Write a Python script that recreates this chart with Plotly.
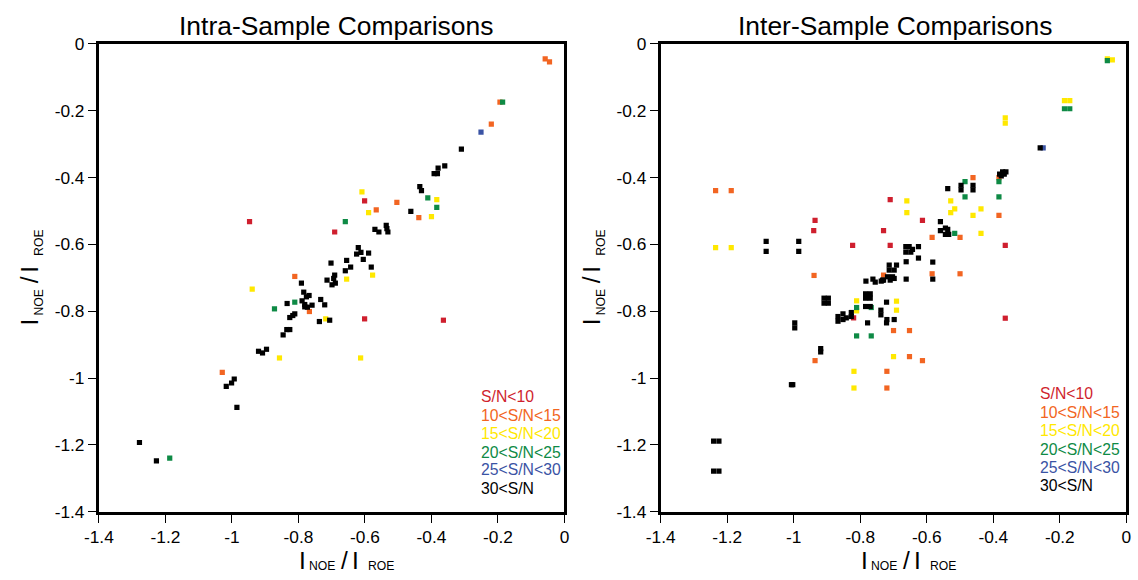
import plotly.graph_objects as go

# ---------------- data ----------------
classes = ["S/N<10", "10<S/N<15", "15<S/N<20", "20<S/N<25", "25<S/N<30", "30<S/N"]
colors = ["#cf1f2e", "#f26522", "#ffe800", "#0e8a45", "#3a53a4", "#000000"]

# Intra-sample panel
intra_sn10_x = [-0.947, -0.601, -0.691, -0.601, -0.364]
intra_sn10_y = [-0.532, -0.470, -0.563, -0.823, -0.827]
intra_sn15_x = [-0.058, -0.045, -0.194, -0.220, -0.566, -0.504, -0.438, -0.811, -0.767, -1.029]
intra_sn15_y = [-0.045, -0.054, -0.174, -0.240, -0.497, -0.474, -0.520, -0.696, -0.801, -0.983]
intra_sn20_x = [-0.609, -0.589, -0.384, -0.400, -0.577, -0.655, -0.939, -0.718, -0.857, -0.613]
intra_sn20_y = [-0.443, -0.505, -0.466, -0.517, -0.692, -0.704, -0.734, -0.823, -0.940, -0.940]
intra_sn25_x = [-0.186, -0.411, -0.384, -0.659, -0.811, -0.872, -1.187]
intra_sn25_y = [-0.174, -0.461, -0.489, -0.532, -0.773, -0.793, -1.240]
intra_sn30_x = [-0.251]
intra_sn30_y = [-0.264]
intra_sn30p_x = [-0.310, -0.360, -0.380, -0.392, -0.382, -0.435, -0.430, -0.462, -0.570, -0.558,
                 -0.536, -0.534, -0.531, -0.620, -0.625, -0.612, -0.589, -0.605, -0.702, -0.655,
                 -0.643, -0.659, -0.581, -0.691, -0.694, -0.714, -0.699, -0.689, -0.791, -0.784,
                 -0.768, -0.776, -0.789, -0.781, -0.773, -0.759, -0.781, -0.733, -0.721, -0.737,
                 -0.706, -0.834, -0.811, -0.817, -0.826, -0.835, -0.826, -0.846, -0.920, -0.908,
                 -0.896, -0.993, -1.001, -1.017, -0.985, -1.278, -1.227]
intra_sn30p_y = [-0.315, -0.365, -0.372, -0.388, -0.388, -0.427, -0.439, -0.501, -0.555, -0.563,
                 -0.543, -0.553, -0.563, -0.610, -0.629, -0.624, -0.626, -0.645, -0.656, -0.648,
                 -0.668, -0.679, -0.668, -0.692, -0.702, -0.707, -0.721, -0.716, -0.716, -0.743,
                 -0.753, -0.757, -0.769, -0.780, -0.788, -0.782, -0.787, -0.765, -0.781, -0.831,
                 -0.827, -0.777, -0.808, -0.813, -0.819, -0.855, -0.855, -0.871, -0.920, -0.925,
                 -0.914, -1.003, -1.015, -1.025, -1.088, -1.193, -1.248]

# Inter-sample panel
inter_sn10_x = [-0.936, -0.940, -0.823, -0.730, -0.710, -0.613, -0.710, -0.364, -0.820, -0.364]
inter_sn10_y = [-0.528, -0.559, -0.603, -0.559, -0.466, -0.528, -0.603, -0.603, -0.820, -0.821]
inter_sn15_x = [-1.235, -1.188, -0.939, -0.730, -0.936, -0.720, -0.720, -0.461, -0.383, -0.383,
                -0.584, -0.500, -0.584, -0.500, -0.700, -0.652, -0.652, -0.613]
inter_sn15_y = [-0.439, -0.439, -0.693, -0.692, -0.948, -0.980, -1.030, -0.400, -0.400, -0.513,
                -0.579, -0.579, -0.688, -0.688, -0.858, -0.858, -0.936, -0.948]
inter_sn20_x = [-1.235, -1.188, -0.811, -0.811, -0.819, -0.819, -0.042, -0.057, -0.186, -0.170,
                -0.364, -0.364, -0.660, -0.660, -0.528, -0.516, -0.528, -0.461, -0.437, -0.437,
                -0.691, -0.691, -0.700]
inter_sn20_y = [-0.610, -0.610, -0.769, -0.799, -0.980, -1.030, -0.048, -0.045, -0.170, -0.170,
                -0.221, -0.237, -0.470, -0.505, -0.470, -0.494, -0.505, -0.513, -0.494, -0.567,
                -0.770, -0.797, -0.936]
inter_sn25_x = [-0.057, -0.186, -0.170, -0.383, -0.485, -0.485, -0.383, -0.516, -0.811, -0.767,
                -0.811, -0.767]
inter_sn25_y = [-0.050, -0.194, -0.194, -0.412, -0.412, -0.458, -0.458, -0.567, -0.789, -0.789,
                -0.874, -0.874]
inter_sn30_x = [-0.250]
inter_sn30_y = [-0.311]
inter_sn30p_x = [-1.083, -1.083, -0.985, -0.985, -0.909, -0.896, -0.909, -0.896, -0.997, -0.997,
                 -0.919, -0.919, -1.007, -1.003, -1.241, -1.225, -1.241, -1.225, -0.852, -0.852,
                 -0.867, -0.867, -0.842, -0.827, -0.827, -0.784, -0.770, -0.784, -0.770, -0.784,
                 -0.770, -0.778, -0.783, -0.762, -0.755, -0.737, -0.730, -0.738, -0.738, -0.721,
                 -0.721, -0.720, -0.698, -0.713, -0.691, -0.713, -0.698, -0.718, -0.703, -0.698,
                 -0.733, -0.710, -0.663, -0.653, -0.663, -0.648, -0.643, -0.625, -0.625, -0.662,
                 -0.582, -0.662, -0.582, -0.559, -0.559, -0.544, -0.537, -0.544, -0.534, -0.537,
                 -0.497, -0.497, -0.461, -0.461, -0.381, -0.372, -0.362, -0.376, -0.367, -0.259]
inter_sn30p_y = [-0.591, -0.621, -0.591, -0.621, -0.761, -0.761, -0.776, -0.776, -0.835, -0.850,
                 -0.912, -0.922, -1.020, -1.020, -1.189, -1.189, -1.279, -1.279, -0.808, -0.825,
                 -0.816, -0.830, -0.820, -0.804, -0.816, -0.748, -0.748, -0.761, -0.761, -0.786,
                 -0.786, -0.835, -0.710, -0.704, -0.713, -0.710, -0.707, -0.797, -0.811, -0.773,
                 -0.835, -0.825, -0.825, -0.662, -0.662, -0.677, -0.677, -0.697, -0.697, -0.702,
                 -0.707, -0.707, -0.607, -0.607, -0.623, -0.623, -0.615, -0.607, -0.641, -0.652,
                 -0.653, -0.704, -0.704, -0.532, -0.559, -0.551, -0.555, -0.570, -0.570, -0.433,
                 -0.423, -0.437, -0.423, -0.437, -0.390, -0.383, -0.383, -0.395, -0.390, -0.311]

tick_vals = [-1.4, -1.2, -1.0, -0.8, -0.6, -0.4, -0.2, 0.0]
tick_text = ["-1.4", "-1.2", "-1", "-0.8", "-0.6", "-0.4", "-0.2", "0"]
titles = ["Intra-Sample Comparisons", "Inter-Sample Comparisons"]
# axis title "I_NOE / I_ROE": pieces (text, is_subscript)
axis_title_parts = [("I", False), ("NOE", True), ("/", False), ("I", False), ("ROE", True)]

intra = [(intra_sn10_x, intra_sn10_y), (intra_sn15_x, intra_sn15_y), (intra_sn20_x, intra_sn20_y),
         (intra_sn25_x, intra_sn25_y), (intra_sn30_x, intra_sn30_y), (intra_sn30p_x, intra_sn30p_y)]
inter = [(inter_sn10_x, inter_sn10_y), (inter_sn15_x, inter_sn15_y), (inter_sn20_x, inter_sn20_y),
         (inter_sn25_x, inter_sn25_y), (inter_sn30_x, inter_sn30_y), (inter_sn30p_x, inter_sn30p_y)]

# ---------------- figure ----------------
W, H = 1138, 580
# The page is shown with the browser's 8px body margin and is fitted into the window,
# so positions below are given in window pixels and mapped back to figure paper coords.
OFF = 8.0
SX = W / (W + OFF)          # horizontal fit factor
SY = H / (H + 2 * OFF)      # vertical fit factor
FONT = "Liberation Sans, Arial, Helvetica, sans-serif"
FS = 1.0 / ((SX + SY) / 2)  # font compensation


def px_x(p):
    """window pixel -> paper x"""
    return ((p - OFF) / SX) / W


def px_y(p):
    """window pixel -> paper y"""
    return 1 - ((p - OFF) / SY) / H


fig = go.Figure()
for (data, xa, ya) in [(intra, "x", "y"), (inter, "x2", "y2")]:
    for (xs, ys), name, col in zip(data, classes, colors):
        fig.add_trace(go.Scatter(
            x=xs, y=ys, mode="markers", name=name, xaxis=xa, yaxis=ya,
            marker=dict(symbol="square", size=5.2, color=col, line=dict(width=0)),
            showlegend=False, hoverinfo="x+y+name"))

left_dom = [px_x(92.8), px_x(563.4)]
right_dom = [px_x(660.7), px_x(1131.3)]
y_dom = [px_y(513.6), px_y(42.2)]

axis_common = dict(
    range=[-1.4, 0], tickmode="array", tickvals=tick_vals, ticktext=tick_text,
    showline=True, linewidth=3, linecolor="black", mirror=True,
    ticks="outside", ticklen=8, tickwidth=1, tickcolor="black",
    showgrid=False, zeroline=False,
    tickfont=dict(family=FONT, size=17 * FS, color="black"),
)

fig.update_layout(
    width=W, height=H,
    margin=dict(l=0, r=0, t=0, b=0),
    paper_bgcolor="white", plot_bgcolor="white",
    showlegend=False,
    font=dict(family=FONT, color="black"),
    xaxis=dict(domain=left_dom, anchor="y", **axis_common),
    yaxis=dict(domain=y_dom, anchor="x", **axis_common),
    xaxis2=dict(domain=right_dom, anchor="y2", **axis_common),
    yaxis2=dict(domain=y_dom, anchor="x2", **axis_common),
)

annotations = []
# panel titles
for cx, t in zip([332, 897], titles):
    annotations.append(dict(x=px_x(cx), y=px_y(24), xref="paper", yref="paper",
                            text=t, showarrow=False, xanchor="center", yanchor="middle",
                            font=dict(family=FONT, size=26 * FS, color="black")))

# axis titles built from pieces (big letters + small subscripts)
part_offsets = [4.0, 23.0, 46.5, 57.0, 83.0]   # position along the text line, px
BIG, SMALL = 24 * FS, 12 * FS
for start_x in [295, 863]:                     # x-axis titles (horizontal)
    for (txt, sub), off in zip(axis_title_parts, part_offsets):
        annotations.append(dict(
            x=px_x(start_x + off), y=px_y(568.5 if sub else 562.5), xref="paper", yref="paper",
            text=txt, showarrow=False, xanchor="center", yanchor="middle",
            font=dict(family=FONT, size=SMALL if sub else BIG, color="black")))
for base_x in [23, 591]:                       # y-axis titles (rotated)
    for (txt, sub), off in zip(axis_title_parts, part_offsets):
        annotations.append(dict(
            x=px_x(base_x + (9 if sub else 0)), y=px_y(326 - off), xref="paper", yref="paper",
            text=txt, showarrow=False, xanchor="center", yanchor="middle", textangle=-90,
            font=dict(family=FONT, size=SMALL if sub else BIG, color="black")))

# colour-coded class labels
leg_left_y = [397.5, 416.5, 435.0, 453.5, 471.5, 490.5]
leg_right_y = [394.5, 413.5, 432.0, 450.5, 469.0, 487.0]
for lx, ys in [(476.5, leg_left_y), (1042, leg_right_y)]:
    for name, col, yy in zip(classes, colors, ys):
        annotations.append(dict(x=px_x(lx), y=px_y(yy), xref="paper", yref="paper",
                                text=name, showarrow=False, xanchor="left", yanchor="middle",
                                font=dict(family=FONT, size=15.5 * FS, color=col)))

fig.update_layout(annotations=annotations)

fig.write_html("out.html")
